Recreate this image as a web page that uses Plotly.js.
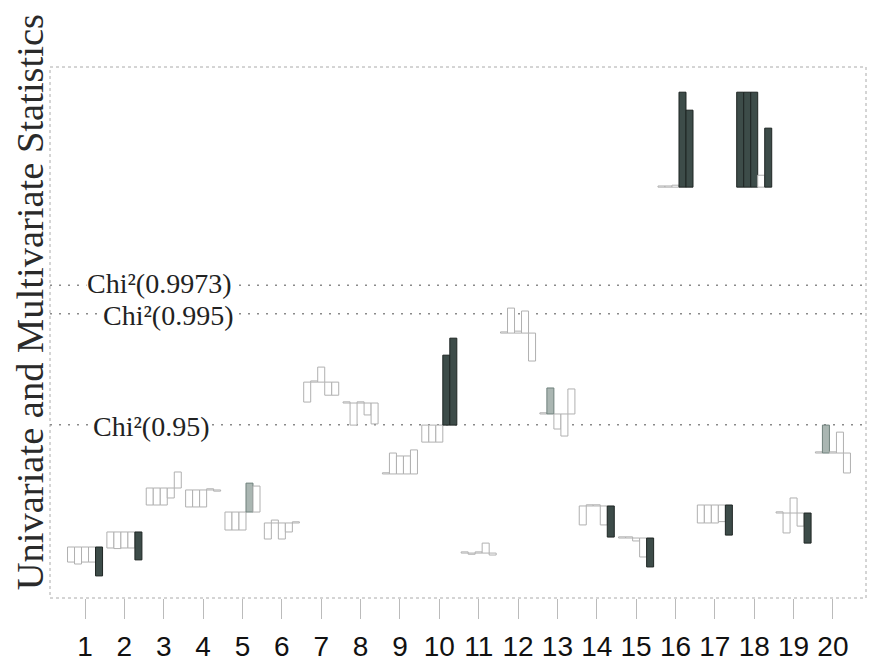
<!DOCTYPE html>
<html>
<head>
<meta charset="utf-8">
<script src="https://cdn.plot.ly/plotly-3.0.1.min.js"></script>
<style>html,body{margin:0;padding:0;background:#fff;}#chart{width:872px;height:663px;}</style>
</head>
<body>
<div id="chart"></div>
<script>
// Observations and tick labels
var obs = [1,2,3,4,5,6,7,8,9,10,11,12,13,14,15,16,17,18,19,20];
var tickLabels = ["1","2","3","4","5","6","7","8","9","10","11","12","13","14","15","16","17","18","19","20"];

// Multivariate statistic per observation (baseline of each bar cluster)
var t2 = [4.81,5.58,7.83,7.73,6.60,6.04,13.25,12.18,8.55,11.05,4.50,15.76,11.62,6.91,5.27,23.23,6.96,23.23,6.55,9.62];

// Univariate statistics (signed, drawn from the baseline), variables 1..5
var u1 = [-0.77,-0.82,-0.87,-0.87,-0.92,-0.82,-1.02,0.06,0.06,-0.87,0.06,0.06,0.06,-0.97,0.06,0.06,-0.92,4.86,0.06,0.06];
var u2 = [-0.87,-0.85,-0.87,-0.87,-0.92,0.15,0.06,-1.13,1.07,-0.87,-0.06,1.28,1.33,0.06,0.06,0.06,-0.92,4.86,-1.02,1.43];
var u3 = [-0.77,-0.82,-0.87,-0.87,-0.92,-0.82,0.77,0.06,0.92,-0.87,0.06,0.10,-0.77,0.06,-0.15,0.10,-0.92,4.86,0.77,0.06];
var u4 = [-0.77,-0.82,-0.51,0.06,1.48,-0.46,-0.67,-0.61,0.92,3.58,0.51,1.13,-1.13,-0.97,-0.97,4.86,-0.85,0.61,-0.67,1.07];
var u5 = [-1.48,-1.43,0.82,-0.06,1.33,0.06,-0.67,-1.07,1.23,4.45,-0.10,-1.43,1.28,-1.59,-1.48,3.94,-1.54,3.02,-1.54,-1.02];

// Signal level per bar (0 = none, 1 = marked, 2 = out of control)
var sig1 = [0,0,0,0,0,0,0,0,0,0,0,0,0,0,0,0,0,2,0,0];
var sig2 = [0,0,0,0,0,0,0,0,0,0,0,0,1,0,0,0,0,2,0,1];
var sig3 = [0,0,0,0,0,0,0,0,0,0,0,0,0,0,0,0,0,2,0,0];
var sig4 = [0,0,0,0,1,0,0,0,0,2,0,0,0,0,0,2,0,0,0,0];
var sig5 = [2,2,0,0,0,0,0,0,0,2,0,0,0,2,2,2,2,2,2,0];

// Chi-square control limits
var limitNames = ["Chi\u00b2(0.9973)","Chi\u00b2(0.995)","Chi\u00b2(0.95)"];
var limitValues = [18.21, 16.75, 11.07];
var limitLabelX = [0.1348, 0.1458, 0.1238];
var limitLabelShift = [2, -2, -2];

var fillColors = ["#ffffff","#aab6b2","#3d4c49"];
var lineColors = ["#b0b0b0","#6f817c","#1f2624"];

var uSets = [u1,u2,u3,u4,u5];
var sigSets = [sig1,sig2,sig3,sig4,sig5];

var traces = uSets.map(function(u, k){
  var s = sigSets[k];
  return {
    type: "bar",
    x: obs,
    y: u,
    base: t2,
    name: "Var " + (k+1),
    marker: {
      color: s.map(function(l){ return fillColors[l]; }),
      line: { color: s.map(function(l){ return lineColors[l]; }), width: 1 }
    },
    hoverinfo: "skip",
    showlegend: false
  };
});

var shapes = [{
  type: "rect", xref: "paper", yref: "paper", x0: 0, x1: 1, y0: 0, y1: 1,
  line: { color: "#aaaaaa", width: 1, dash: "dot" }, layer: "below"
}];
limitValues.forEach(function(v){
  shapes.push({
    type: "line", xref: "paper", yref: "y", x0: 0, x1: 1, y0: v, y1: v,
    line: { color: "#8a8a8a", width: 1.5, dash: "2px,7px" }, layer: "below"
  });
});

var annotations = limitNames.map(function(t, i){
  return {
    text: t, xref: "paper", yref: "y", x: limitLabelX[i], y: limitValues[i],
    xanchor: "center", yanchor: "middle", showarrow: false, yshift: limitLabelShift[i],
    bgcolor: "#ffffff", borderpad: 0,
    font: { family: "Liberation Serif, Times New Roman, serif", size: 28, color: "#222222" }
  };
});
annotations.push({
  text: "Univariate and Multivariate Statistics",
  xref: "paper", yref: "paper", x: -0.0245, y: 0.557,
  xanchor: "center", yanchor: "middle", textangle: -90, showarrow: false,
  font: { family: "Liberation Serif, Times New Roman, serif", size: 38.5, color: "#2a2a2a" }
});

var layout = {
  width: 872, height: 663,
  margin: { l: 50, r: 6, t: 67, b: 65 },
  paper_bgcolor: "#ffffff", plot_bgcolor: "#ffffff",
  barmode: "group", bargap: 0.11, bargroupgap: 0,
  showlegend: false,
  xaxis: {
    range: [0.11, 20.84], tickmode: "array", tickvals: obs, ticktext: tickLabels,
    showgrid: false, zeroline: false, showline: false,
    ticks: "outside", ticklen: 20, tickcolor: "#bbbbbb", tickwidth: 1,
    ticklabelstandoff: 3,
    tickfont: { family: "Liberation Sans, Arial, sans-serif", size: 28, color: "#111111" }
  },
  yaxis: {
    range: [2.2, 29.38], showgrid: false, zeroline: false, showline: false,
    showticklabels: false, ticks: ""
  },
  shapes: shapes,
  annotations: annotations
};

Plotly.newPlot("chart", traces, layout, { displayModeBar: false, staticPlot: true });
</script>
</body>
</html>
